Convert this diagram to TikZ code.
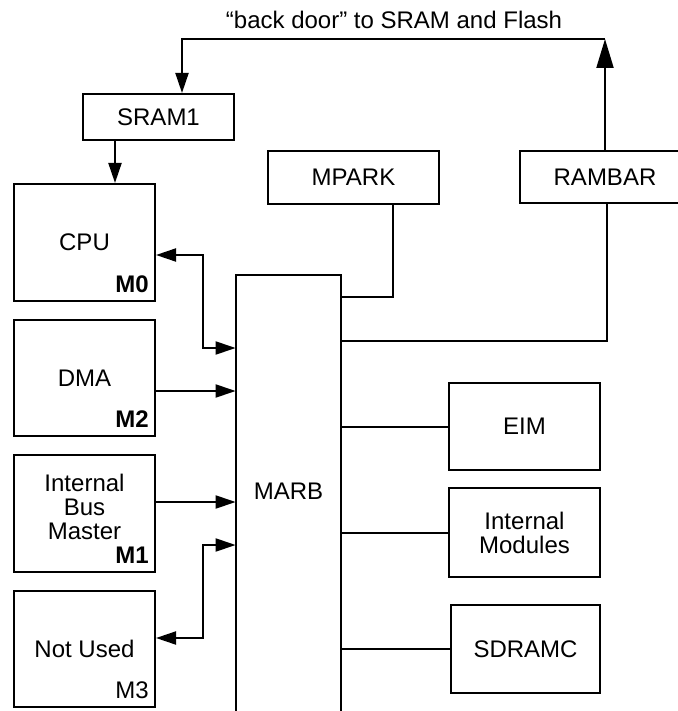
\documentclass[tikz,border=0pt]{standalone}
\usepackage{fontspec}
\setmainfont{Liberation Sans}
\usetikzlibrary{arrows.meta}

\begin{document}
\begin{tikzpicture}[
    x=0.5pt, y=-0.5pt,
    font=\fontsize{12}{12}\selectfont,
    box/.style={draw=black, line width=1pt, inner sep=0pt, align=center},
    link/.style={draw=black, line width=1pt},
    arr/.style={link, -{Triangle[length=10pt, width=6.5pt]}},
    dbl/.style={link, {Triangle[length=10pt, width=6.5pt]}-{Triangle[length=10pt, width=6.5pt]}},
    bigarr/.style={link, -{Triangle[length=14.5pt, width=8.5pt]}},
    tag/.style={anchor=south east, inner xsep=3.5pt, inner ysep=4.5pt}
  ]
    \useasboundingbox (0,0) rectangle (678,711);
    \clip (0,0) rectangle (678,711);

    \node (bdtext) at (394,20) {“back door” to SRAM and Flash};
    \node[box, minimum width=75.5pt, minimum height=23pt] (sram) at (158.5,117) {SRAM1};
    \node[box, minimum width=85.5pt, minimum height=26.5pt] (mpark) at (353.5,177.5) {MPARK};
    \node[box, minimum width=85pt, minimum height=26pt] (rambar) at (605,177) {RAMBAR};

    \node[box, minimum width=70.5pt, minimum height=58.5pt, label={[tag]south east:\textbf{M0}}] (cpu) at (84.5,242.5) {CPU};
    \node[box, minimum width=70.5pt, minimum height=58pt, label={[tag]south east:\textbf{M2}}] (dma) at (84.5,378) {DMA};
    \node[box, minimum width=70.5pt, minimum height=58.5pt, text depth=7pt, label={[tag]south east:\textbf{M1}}] (ibm) at (84.5,513.5) {Internal\\Bus\\Master};
    \node[box, minimum width=70.5pt, minimum height=58pt, label={[tag]south east:M3}] (notused) at (84.5,649) {Not Used};

    \node[minimum width=52.5pt, minimum height=216pt, inner sep=0pt] (marb) at (288.5,491) {MARB};
    \draw[link] ([yshift=-6pt]marb.south west) |- (marb.north east) -- ([yshift=-6pt]marb.south east);

    \node[box, minimum width=75.5pt, minimum height=43.5pt] (eim) at (524.5,426.5) {EIM};
    \node[box, minimum width=75.5pt, minimum height=44.5pt] (intmod) at (524.5,532.5) {Internal\\Modules};
    \node[box, minimum width=74.5pt, minimum height=44pt] (sdramc) at (525.5,649) {SDRAMC};

    % back door path
    \draw[bigarr] (rambar.north) -- (rambar.north |- 0,39) coordinate (bd);
    \draw[arr] (bd) -| ([xshift=11.75pt]sram.north);
    \draw[arr] ([xshift=-21.75pt]sram.south) -- ([xshift=-21.75pt]sram.south |- cpu.north);

    % masters
    \draw[dbl] ([yshift=-6.25pt]cpu.east) -| (203,348) -- (marb.west |- 0,348);
    \draw[arr] ([yshift=-6.5pt]dma.east) -- ([yshift=-6.5pt]dma.east -| marb.west);
    \draw[arr] ([yshift=5.75pt]ibm.east) -- ([yshift=5.75pt]ibm.east -| marb.west);
    \draw[dbl] ([yshift=5.5pt]notused.east) -| (203,545) -- (marb.west |- 0,545);

    % slaves
    \draw[link] ([xshift=19.75pt]mpark.south) |- (marb.east |- 0,297);
    \draw[link] ([xshift=1pt]rambar.south) |- (marb.east |- 0,341);
    \foreach \n in {eim, intmod, sdramc}
      \draw[link] (marb.east |- \n.west) -- (\n.west);
  \end{tikzpicture}
\end{document}
